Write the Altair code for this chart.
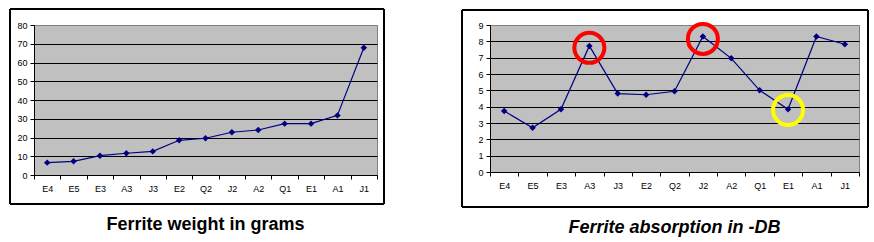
import altair as alt
import pandas as pd

categories = ["E4", "E5", "E3", "A3", "J3", "E2", "Q2", "J2", "A2", "Q1", "E1", "A1", "J1"]
weight_grams = [6.6, 7.3, 10.3, 11.6, 12.6, 18.5, 19.6, 22.8, 24.0, 27.4, 27.4, 31.8, 67.9]
absorption_db = [3.73, 2.71, 3.84, 7.72, 4.8, 4.73, 4.94, 8.3, 6.96, 5.0, 3.84, 8.3, 7.82]

circle_cats = ["A3", "J2", "E1"]
circle_vals = [7.6, 8.15, 3.8]
circle_colors = ["red", "red", "yellow"]

weight_ticks = [0, 10, 20, 30, 40, 50, 60, 70, 80]
absorb_ticks = [0, 1, 2, 3, 4, 5, 6, 7, 8, 9]

FONT = "Liberation Sans"
TITLE_FONT = "Liberation Sans"
LINE = "#000080"

df_w = pd.DataFrame({"cat": categories, "val": weight_grams})
df_a = pd.DataFrame({"cat": categories, "val": absorption_db})
df_c = pd.DataFrame({"cat": circle_cats, "val": circle_vals, "col": circle_colors})


def x_enc():
    return alt.X(
        "cat:N",
        sort=categories,
        bandPosition=0.5,
        scale=alt.Scale(type="band", paddingInner=0, paddingOuter=0),
        axis=alt.Axis(
            title=None, labelAngle=0, tickBand="extent", tickSize=4,
            tickColor="black", domainColor="black", labelFont=FONT,
            labelFontSize=9, labelColor="black", labelPadding=5, grid=False,
        ),
    )


def y_enc(maxv, ticks):
    return alt.Y(
        "val:Q",
        scale=alt.Scale(domain=[0, maxv], nice=False, zero=True),
        axis=alt.Axis(
            title=None, values=ticks, tickSize=4, tickColor="black",
            domainColor="black", labelFont=FONT, labelFontSize=9,
            labelColor="black", labelPadding=3,
            grid=True,
            gridColor={"condition": {"test": f"datum.value >= {maxv}", "value": "#808080"}, "value": "black"},
            gridWidth=1,
        ),
    )


def panel(df, maxv, ticks, w, h, frame, title, italic, circles=None):
    base = alt.Chart(df)
    line = base.mark_line(color=LINE, strokeWidth=1.2).encode(x=x_enc(), y=y_enc(maxv, ticks))
    pts = base.mark_point(shape="diamond", filled=True, color=LINE, size=42, opacity=1).encode(
        x=x_enc(), y=y_enc(maxv, ticks))
    fr = alt.Chart(df).mark_rect(fill="transparent", stroke="black", strokeWidth=1, clip=False).encode(
        x=alt.value(frame[0]), x2=alt.value(frame[1]),
        y=alt.value(frame[2]), y2=alt.value(frame[3]))
    layers = [fr, line, pts]
    if circles is not None:
        circ = alt.Chart(circles).mark_point(shape="circle", filled=False, size=900, strokeWidth=4, opacity=1).encode(
            x=x_enc(), y=y_enc(maxv, ticks),
            color=alt.Color("col:N", scale=None))
        layers.append(circ)
    return alt.layer(*layers).properties(
        width=w, height=h,
        view=alt.ViewBackground(fill="#C0C0C0", stroke="#808080", strokeWidth=1),
        title=alt.TitleParams(
            title, orient="bottom", anchor="middle", font=TITLE_FONT,
            fontSize=18, fontWeight="bold", fontStyle="italic" if italic else "normal",
            color="black", offset=11,
        ),
    )


left = panel(df_w, 80, weight_ticks, 343, 150, (-24, 350, -16, 179),
             "Ferrite weight in grams", False)
right = panel(df_a, 9, absorb_ticks, 369, 147, (-28, 378, -15, 182),
              "Ferrite absorption in -DB", True, circles=df_c)

chart = alt.hconcat(left, right, spacing=113, bounds="flush").configure(
    background="white",
    view=alt.ViewConfig(fill="#C0C0C0", stroke="#808080", strokeWidth=1),
).properties(padding={"left": 9, "top": 8, "right": 0, "bottom": 0})

chart.save("out.html", embed_options={"renderer": "svg", "actions": False})
